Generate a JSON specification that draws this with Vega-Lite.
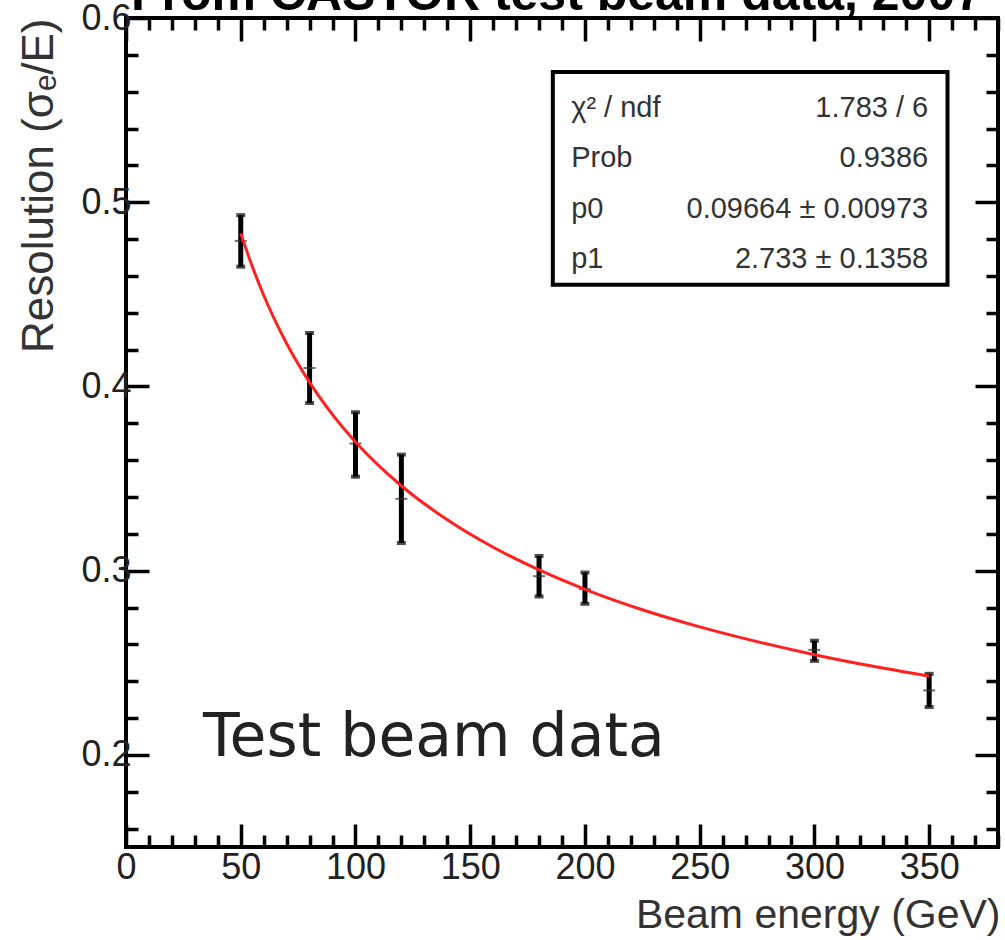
{
  "$schema": "https://vega.github.io/schema/vega-lite/v6.json",
  "autosize": {"type": "none"},
  "padding": {"left": 126, "top": 18, "right": 7, "bottom": 93},
  "width": 872,
  "height": 829,
  "background": "white",
  "config": {"view": {"stroke": "black", "strokeWidth": 4}, "axis": {"grid": false, "domain": false}},
  "datasets": {
    "points": [
      {"E": 50, "res": 0.479, "lo": 0.465, "hi": 0.493},
      {"E": 80, "res": 0.410, "lo": 0.391, "hi": 0.429},
      {"E": 100, "res": 0.369, "lo": 0.351, "hi": 0.386},
      {"E": 120, "res": 0.339, "lo": 0.315, "hi": 0.363},
      {"E": 180, "res": 0.297, "lo": 0.286, "hi": 0.308},
      {"E": 200, "res": 0.290, "lo": 0.282, "hi": 0.299},
      {"E": 300, "res": 0.257, "lo": 0.251, "hi": 0.262},
      {"E": 350, "res": 0.235, "lo": 0.226, "hi": 0.244}
    ],
    "fit": [
      {"E": 50, "res": 0.4831}, {"E": 55, "res": 0.4652}, {"E": 60, "res": 0.4495},
      {"E": 70, "res": 0.4233}, {"E": 80, "res": 0.4022}, {"E": 90, "res": 0.3847},
      {"E": 100, "res": 0.3699}, {"E": 120, "res": 0.3461}, {"E": 140, "res": 0.3276},
      {"E": 160, "res": 0.3127}, {"E": 180, "res": 0.3004}, {"E": 200, "res": 0.2899},
      {"E": 225, "res": 0.2788}, {"E": 250, "res": 0.2695}, {"E": 275, "res": 0.2615},
      {"E": 300, "res": 0.2544}, {"E": 325, "res": 0.2482}, {"E": 350, "res": 0.2427}
    ],
    "stats": [
      {"name": "χ² / ndf", "val": "1.783 / 6"},
      {"name": "Prob", "val": "0.9386"},
      {"name": "p0", "val": "0.09664 ± 0.00973"},
      {"name": "p1", "val": "2.733 ± 0.1358"}
    ]
  },
  "layer": [
    {
      "data": {"name": "points"},
      "mark": {"type": "rule", "color": "black", "strokeWidth": 5},
      "encoding": {
        "x": {"field": "E", "type": "quantitative", "scale": {"domain": [0, 380], "nice": false, "zero": false},
          "axis": {"orient": "bottom", "values": [0,10,20,30,40,50,60,70,80,90,100,110,120,130,140,150,160,170,180,190,200,210,220,230,240,250,260,270,280,290,300,310,320,330,340,350,360,370,380],
            "tickSize": {"condition": {"test": "datum.value % 50 === 0", "value": -23}, "value": -12},
            "tickWidth": 3.5, "tickColor": "black",
            "labelExpr": "datum.value % 50 === 0 ? datum.label : ''",
            "format": "d",
            "labelFont": "Liberation Sans Narrow, Liberation Sans, sans-serif", "labelFontSize": 36, "labelColor": "#222",
            "labelPadding": 26, "labelOverlap": false, "labelFlush": false, "labelBound": false,
            "title": "Beam energy (GeV)", "titleFont": "Liberation Sans", "titleFontSize": 41, "titleFontWeight": "normal", "titleColor": "#333",
            "titleAlign": "right", "titleAnchor": "end", "titleX": 874, "titleY": 80, "titleBaseline": "alphabetic"}},
        "y": {"field": "lo", "type": "quantitative", "scale": {"domain": [0.15, 0.6], "nice": false, "zero": false},
          "axis": {"orient": "left", "values": [0.16,0.18,0.2,0.22,0.24,0.26,0.28,0.3,0.32,0.34,0.36,0.38,0.4,0.42,0.44,0.46,0.48,0.5,0.52,0.54,0.56,0.58,0.6],
            "tickSize": {"condition": {"test": "abs(datum.value*10 - round(datum.value*10)) < 0.001", "value": -23}, "value": -12},
            "tickWidth": 3.5, "tickColor": "black",
            "labelExpr": "abs(datum.value*10 - round(datum.value*10)) < 0.001 ? datum.label : ''",
            "format": ".1f",
            "labelFont": "Liberation Sans Narrow, Liberation Sans, sans-serif", "labelFontSize": 36, "labelColor": "#222",
            "labelPadding": 18, "labelOverlap": false, "labelFlush": false, "labelBound": false,
            "title": "Resolution (σₑ/E)", "titleFont": "Liberation Sans", "titleFontSize": 44, "titleFontWeight": "normal", "titleColor": "#333",
            "titleAngle": -90, "titleAlign": "right", "titleX": -74, "titleY": 0, "titleBaseline": "alphabetic"}},
        "y2": {"field": "hi"}
      }
    },
    {
      "data": {"name": "points"},
      "mark": {"type": "tick", "orient": "horizontal", "color": "black", "size": 9, "thickness": 4},
      "encoding": {
        "x": {"field": "E", "type": "quantitative", "scale": {"domain": [0, 380], "nice": false, "zero": false}, "axis": null},
        "y": {"field": "lo", "type": "quantitative", "scale": {"domain": [0.15, 0.6], "nice": false, "zero": false}, "axis": null}
      }
    },
    {
      "data": {"name": "points"},
      "mark": {"type": "tick", "orient": "horizontal", "color": "black", "size": 9, "thickness": 4},
      "encoding": {
        "x": {"field": "E", "type": "quantitative", "scale": {"domain": [0, 380], "nice": false, "zero": false}, "axis": null},
        "y": {"field": "hi", "type": "quantitative", "scale": {"domain": [0.15, 0.6], "nice": false, "zero": false}, "axis": null}
      }
    },
    {
      "data": {"name": "points"},
      "mark": {"type": "tick", "orient": "horizontal", "color": "#333", "size": 12, "thickness": 2},
      "encoding": {
        "x": {"field": "E", "type": "quantitative", "scale": {"domain": [0, 380], "nice": false, "zero": false}, "axis": null},
        "y": {"field": "res", "type": "quantitative", "scale": {"domain": [0.15, 0.6], "nice": false, "zero": false}, "axis": null}
      }
    },
    {
      "data": {"values": [{"box": "stats"}]},
      "mark": {"type": "rect", "fill": "white", "stroke": "black", "strokeWidth": 4},
      "encoding": {
        "x": {"datum": 186, "type": "quantitative", "scale": {"domain": [0, 380], "nice": false, "zero": false}, "axis": null},
        "x2": {"datum": 358},
        "y": {"datum": 0.5707, "type": "quantitative", "scale": {"domain": [0.15, 0.6], "nice": false, "zero": false}, "axis": null},
        "y2": {"datum": 0.4552}
      }
    },
    {
      "data": {"values": [{"label": "Test beam data"}]},
      "mark": {"type": "text", "font": "DejaVu Sans", "fontSize": 60, "color": "#222", "align": "left", "baseline": "alphabetic"},
      "encoding": {
        "x": {"datum": 33.6, "type": "quantitative", "scale": {"domain": [0, 380], "nice": false, "zero": false}, "axis": null},
        "y": {"datum": 0.1992, "type": "quantitative", "scale": {"domain": [0.15, 0.6], "nice": false, "zero": false}, "axis": null},
        "text": {"field": "label"}
      }
    },
    {
      "data": {"values": [{"label": "From CASTOR test beam data, 2007"}]},
      "mark": {"type": "text", "font": "Liberation Sans", "fontSize": 50, "fontWeight": "bold", "color": "black", "align": "center", "baseline": "alphabetic", "clip": false},
      "encoding": {
        "x": {"datum": 187.8, "type": "quantitative", "scale": {"domain": [0, 380], "nice": false, "zero": false}, "axis": null},
        "y": {"datum": 0.6041, "type": "quantitative", "scale": {"domain": [0.15, 0.6], "nice": false, "zero": false}, "axis": null},
        "text": {"field": "label"}
      }
    },
    {
      "data": {"name": "fit"},
      "mark": {"type": "line", "color": "#ff2020", "strokeWidth": 3, "interpolate": "monotone"},
      "encoding": {
        "x": {"field": "E", "type": "quantitative", "scale": {"domain": [0, 380], "nice": false, "zero": false},
          "axis": {"orient": "top", "values": [0,10,20,30,40,50,60,70,80,90,100,110,120,130,140,150,160,170,180,190,200,210,220,230,240,250,260,270,280,290,300,310,320,330,340,350,360,370,380],
            "tickSize": {"condition": {"test": "datum.value % 50 === 0", "value": -23}, "value": -12},
            "tickWidth": 3.5, "tickColor": "black", "labels": false, "title": null}},
        "y": {"field": "res", "type": "quantitative", "scale": {"domain": [0.15, 0.6], "nice": false, "zero": false},
          "axis": {"orient": "right", "values": [0.16,0.18,0.2,0.22,0.24,0.26,0.28,0.3,0.32,0.34,0.36,0.38,0.4,0.42,0.44,0.46,0.48,0.5,0.52,0.54,0.56,0.58,0.6],
            "tickSize": {"condition": {"test": "abs(datum.value*10 - round(datum.value*10)) < 0.001", "value": -23}, "value": -12},
            "tickWidth": 3.5, "tickColor": "black", "labels": false, "title": null}}
      }
    },
    {
      "data": {"name": "stats"},
      "mark": {"type": "text", "font": "Liberation Sans", "fontSize": 29, "color": "#333", "align": "left", "baseline": "alphabetic"},
      "encoding": {
        "x": {"datum": 194, "type": "quantitative", "scale": {"domain": [0, 380], "nice": false, "zero": false}, "axis": null},
        "y": {"field": "name", "type": "nominal", "sort": null, "scale": {"type": "point", "range": [99, 250], "padding": 0}, "axis": null},
        "text": {"field": "name"}
      }
    },
    {
      "data": {"name": "stats"},
      "mark": {"type": "text", "font": "Liberation Sans", "fontSize": 29, "color": "#333", "align": "right", "baseline": "alphabetic"},
      "encoding": {
        "x": {"datum": 349.6, "type": "quantitative", "scale": {"domain": [0, 380], "nice": false, "zero": false}, "axis": null},
        "y": {"field": "name", "type": "nominal", "sort": null, "scale": {"type": "point", "range": [99, 250], "padding": 0}, "axis": null},
        "text": {"field": "val"}
      }
    }
  ],
  "resolve": {"scale": {"x": "independent", "y": "independent"}, "axis": {"x": "independent", "y": "independent"}}
}
